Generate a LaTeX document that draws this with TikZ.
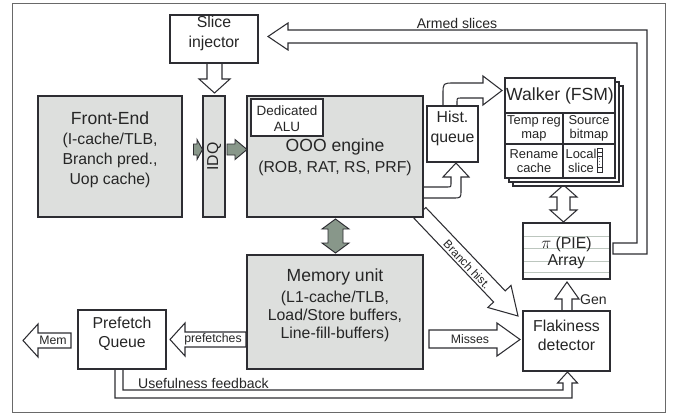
\documentclass[tikz,border=0pt]{standalone}
\usepackage{fontspec}
\setmainfont{Liberation Sans}
\usetikzlibrary{fit}
\definecolor{shade}{RGB}{221,223,221}
\definecolor{edge}{RGB}{45,45,50}
\definecolor{grn}{RGB}{136,151,138}
\definecolor{framec}{RGB}{105,105,105}
\definecolor{pieline}{RGB}{188,198,190}
\tikzset{
  box/.style={draw=edge, line width=0.9pt, fill=white, inner sep=0pt, align=center, text=black!85},
  shaded/.style={box, fill=shade},
  big/.style={font=\fontsize{13.5}{16.5}\selectfont},
  cell/.style={font=\fontsize{11}{11.5}\selectfont, inner sep=0pt, align=center, text=black!85},
  lab/.style={font=\fontsize{12}{14}\selectfont, inner sep=0pt, text=black!85},
  arrlab/.style={font=\fontsize{10.5}{12}\selectfont, inner sep=0pt, text=black!85},
  hollow/.style={draw=edge, line width=0.9pt, fill=white, line join=miter},
  greenarrow/.style={draw=edge, line width=0.8pt, fill=grn, line join=miter},
}
\newcommand{\ttl}[1]{{\fontsize{15}{17}\selectfont #1}}
\begin{document}
\begin{tikzpicture}[x=0.3mm,y=-0.3mm]
\useasboundingbox (0,0) rectangle (674,415);
\fill[white] (0,0) rectangle (674,415);
\draw[framec, line width=0.8pt] (12,3) rectangle (665,412);

% ---- block arrows drawn under the boxes ----
% Branch hist.
\draw[hollow] (425.8,207.5) -- (505.2,290.9) -- (511.0,285.4) -- (518,316) -- (487.8,307.5) -- (493.6,302.0) -- (414.2,218.5) -- cycle;
\node[font=\fontsize{10}{12}\selectfont, inner sep=0pt, text=black!85, rotate=-46.4] (bhl) at (467,264.5) {Branch hist.};
% OOO -> Hist. queue
\draw[hollow] (423,187) -- (447,187) .. controls (451,187) .. (451,183) -- (451,177) -- (443,177) -- (456,163) -- (469,177) -- (461,177) -- (461,190) .. controls (461,198) .. (453,198) -- (423,198);
% Hist. queue -> Walker
\draw[hollow] (443,107) -- (443,94) .. controls (443,83) .. (454,83) -- (483,83) -- (483,76) -- (502,90.5) -- (483,105) -- (483,98) -- (461,98) .. controls (457,98) .. (457,102) -- (457,107);
% Slice injector -> IDQ
\draw[hollow] (207,63) -- (207,79) -- (199,79) -- (214.5,93) -- (230,79) -- (222,79) -- (222,63);
% Armed slices
\draw[hollow] (613,254) -- (647,254) -- (647,30) -- (288,30) -- (288,23) -- (268,36.5) -- (288,50) -- (288,43) -- (637,43) -- (637,243) -- (613,243) -- cycle;
% Usefulness feedback
\draw[hollow] (115,369) -- (115,398) -- (572,398) -- (572,383) -- (577.5,383) -- (567.5,372) -- (557.5,383) -- (563,383) -- (563,390) -- (123,390) -- (123,369);
% Gen
\draw[hollow] (562,311) -- (562,299) -- (555,299) -- (567,282) -- (579,299) -- (572,299) -- (572,311);
% Misses
\draw[hollow] (429,330) -- (497,330) -- (497,323) -- (520,339.5) -- (497,356) -- (497,348) -- (429,348) -- cycle;
% prefetches
\draw[hollow] (246,332) -- (185,332) -- (185,323) -- (170,339.5) -- (185,356) -- (185,347) -- (246,347) -- cycle;
% Mem
\draw[hollow] (71,333) -- (38,333) -- (38,324) -- (23,340.5) -- (38,357) -- (38,348) -- (71,348) -- cycle;
% Walker <-> PIE
\draw[hollow] (563.5,185) -- (577,197) -- (570,197) -- (570,210) -- (577,210) -- (563.5,222) -- (550,210) -- (557,210) -- (557,197) -- (550,197) -- cycle;
% green arrows
\draw[greenarrow] (193.5,144) -- (197,144) -- (197,139.5) -- (202.5,149.5) -- (197,159.5) -- (197,155) -- (193.5,155) -- cycle;
\draw[greenarrow] (227,144) -- (235,144) -- (235,139.5) -- (247,149.5) -- (235,159.5) -- (235,155) -- (227,155) -- cycle;
\draw[greenarrow] (335.5,219) -- (349,229) -- (343,229) -- (343,243) -- (349,243) -- (335.5,253) -- (322,243) -- (328,243) -- (328,229) -- (322,229) -- cycle;

% ---- boxes ----
\node[box, big, fit={(170,15)(258,63)}] (si) {Slice\\injector};
\node[shaded, big, fit={(38,96)(182,217)}, font=\fontsize{13.5}{17}\selectfont] (fe) {\ttl{Front-End}\\(I-cache/TLB,\\Branch pred.,\\Uop cache)};
\node[shaded, fit={(203,96)(225,217)}] (idq) {};
\node[big, rotate=90, inner sep=0pt, text=black!85] at (idq.center) {IDQ};
\node[shaded, big, fit={(247,96)(423,217)}] (ooo) {};
\node[big, align=center, inner sep=0pt, text=black!85] (ooot) at (335,157.5) {\ttl{OOO engine}\\[1pt](ROB, RAT, RS, PRF)};
\node[box, fit={(251,99)(323,136)}] (alu) {};
\node[font=\fontsize{11.5}{14}\selectfont, align=center, inner sep=0pt, text=black!85] (alut) at (287,118.5) {Dedicated\\ALU};
\node[box, big, fit={(427,106)(478,162)}] (hq) {Hist.\\queue};
\node[shaded, big, fit={(247,255)(423,369)}, font=\fontsize{13.5}{15.5}\selectfont] (mem) {\ttl{Memory unit}\\[2pt](L1-cache/TLB,\\Load/Store buffers,\\Line-fill-buffers)};
\node[box, big, fit={(78,310)(166,369)}] (pq) {Prefetch\\Queue};
\node[box, big, fit={(523,311)(610,371)}] (fd) {Flakiness\\detector};

% PIE array
\node[box, fit={(523,223)(610,279)}] (pie) {};
\foreach \yy in {236,248,261,272} \draw[pieline, line width=0.8pt] (524,\yy) -- (609,\yy);
\node[big, inner sep=0pt, text=black!85] (piet) at (566.5,244) {$\pi$ (PIE)};
\node[big, inner sep=0pt, text=black!85] (piea) at (566.5,262) {Array};

% Walker stack
\draw[box] (513,86) rectangle (623,186);
\draw[box] (509,82) rectangle (619,182);
\node[box, fit={(505,78)(615,178)}] (wk) {};
\draw[draw=edge, line width=0.9pt] (505,113) -- (615,113) (505,144) -- (615,144) (563,113) -- (563,178);
\node[inner sep=0pt, text=black!85, font=\fontsize{15}{17}\selectfont] (wkt) at (560,96) {Walker (FSM)};
\node[cell] (c1) at (534,128.5) {Temp reg\\map};
\node[cell] (c2) at (589,128.5) {Source\\bitmap};
\node[cell] (c3) at (534,161) {Rename\\cache};
\node[cell] (c4) at (581,161) {Local\\slice};
\draw[edge, line width=0.5pt] (597,148) rectangle (602,172);
\draw[edge, line width=0.4pt] (597,152) -- (602,152) (597,156) -- (602,156) (597,167) -- (602,167);
\draw[edge!60, line width=0.4pt, dotted] (599.5,158) -- (599.5,165);

% labels
\node[lab] (armed) at (457,23.5) {Armed slices};
\node[lab, anchor=base west] (usef) at (138,388) {Usefulness feedback};
\node[arrlab] (misl) at (470,339) {Misses};
\node[arrlab] (prel) at (213,339.5) {prefetches};
\node[arrlab] (meml) at (53,340.5) {Mem};
\node[lab, anchor=west] (genl) at (580,300) {Gen};
\end{tikzpicture}
\end{document}
